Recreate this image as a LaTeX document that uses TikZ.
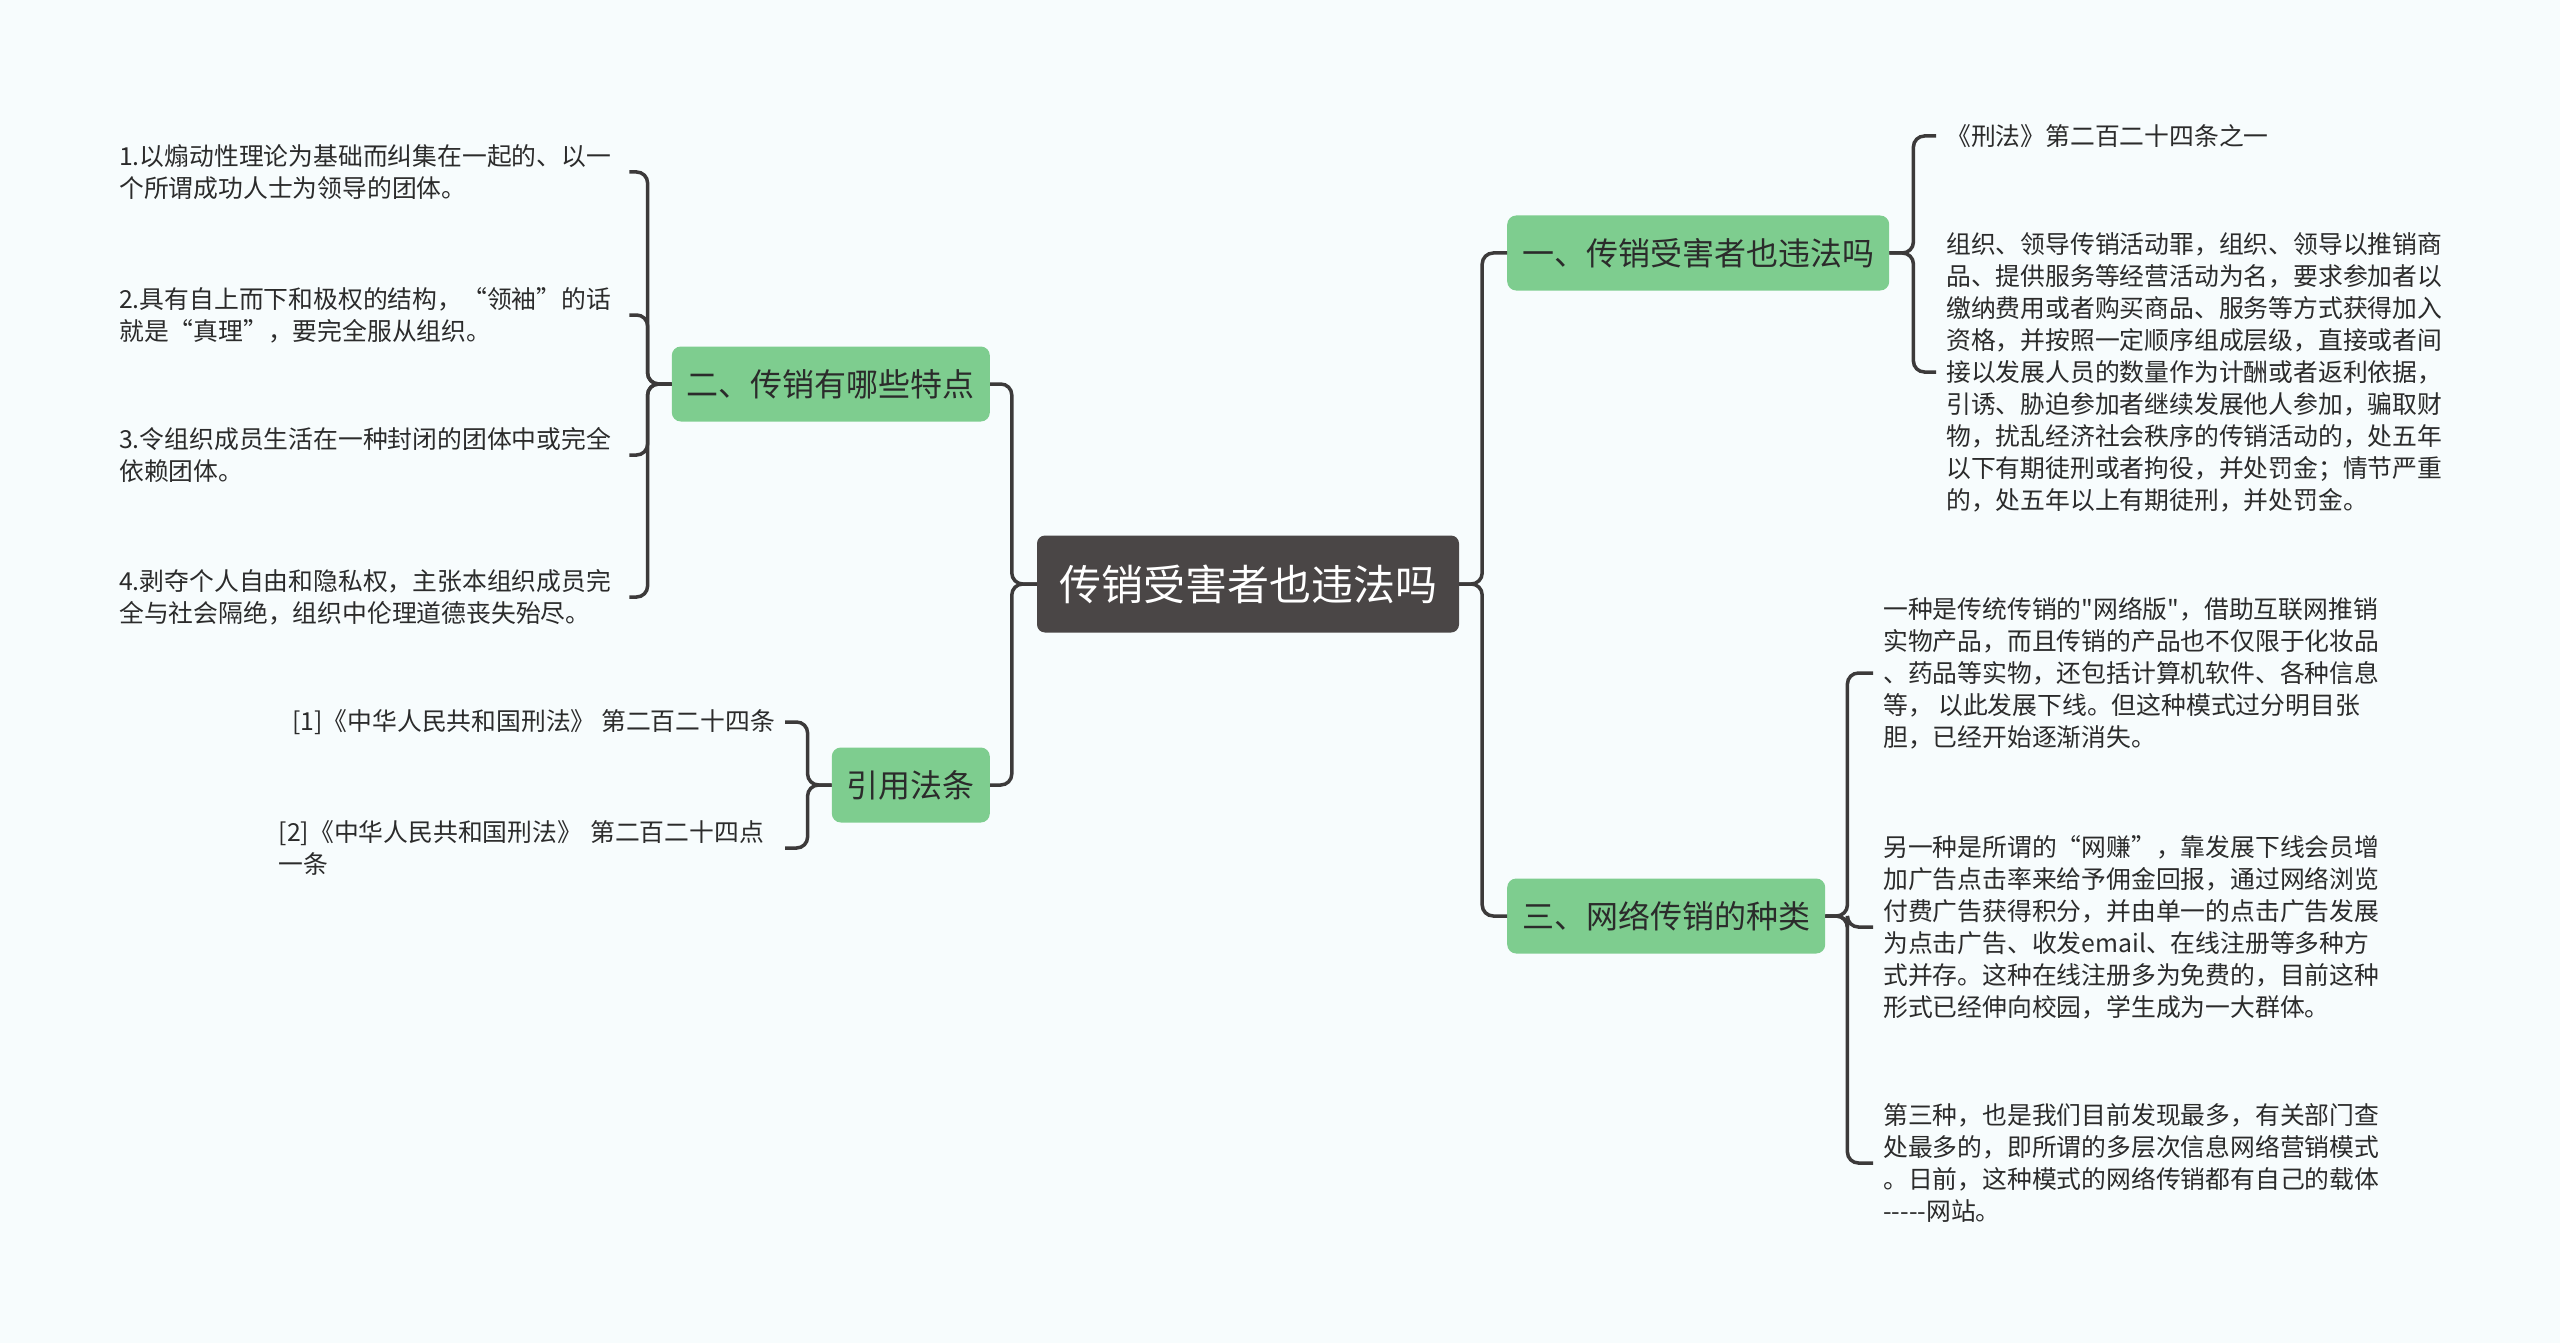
\documentclass[tikz,border=0pt]{standalone}
\usepackage{fontspec}
\usepackage{xcolor}
\usepackage{tikz}
\usetikzlibrary{positioning}
\newfontfamily\cjk{Noto Sans CJK SC}
\definecolor{bgpale}{HTML}{F7FCFD}
\definecolor{rootgray}{HTML}{4A4646}
\definecolor{topicgreen}{HTML}{7ECD8F}
\definecolor{linkgray}{HTML}{3C3A3A}
\definecolor{textdark}{HTML}{2B2B2B}
\tikzset{
  rootbox/.style={fill=rootgray,text=white,rounded corners=8pt,minimum height=97pt,
    inner xsep=22pt,font=\cjk\fontsize{42}{50}\selectfont},
  topicbox/.style={fill=topicgreen,text=textdark,rounded corners=9pt,minimum height=75pt,
    inner xsep=15pt,font=\cjk\fontsize{32}{38}\selectfont},
  leaftext/.style={text=textdark,align=left,inner xsep=10pt,inner ysep=4pt,
    font=\cjk\fontsize{24.8}{32}\selectfont},
  link/.style={draw=linkgray,line width=3.5pt,rounded corners=11pt}
}
\begin{document}
\begin{tikzpicture}[x=1pt,y=-1pt]
  \fill[bgpale] (0,0) rectangle (2560,1343);
  \useasboundingbox (0,0) rectangle (2560,1343);
  % centre and main topics
  \node[rootbox] (root) at (1248,584) {传销受害者也违法吗};
  \node[topicbox,anchor=west] (t1) at (1507,253) {一、传销受害者也违法吗};
  \node[topicbox,anchor=west] (t3) at (1507,916) {三、网络传销的种类};
  \node[topicbox,anchor=east] (t2) at (990,384) {二、传销有哪些特点};
  \node[topicbox,anchor=east] (t4) at (990,785) {引用法条};
  % leaves of t1
  \node[leaftext,anchor=west] (l11) at (1936,136) {《刑法》第二百二十四条之一};
  \node[leaftext,anchor=west] (l12) at (1936,372) {组织、领导传销活动罪，组织、领导以推销商\\品、提供服务等经营活动为名，要求参加者以\\缴纳费用或者购买商品、服务等方式获得加入\\资格，并按照一定顺序组成层级，直接或者间\\接以发展人员的数量作为计酬或者返利依据，\\引诱、胁迫参加者继续发展他人参加，骗取财\\物，扰乱经济社会秩序的传销活动的，处五年\\以下有期徒刑或者拘役，并处罚金；情节严重\\的，处五年以上有期徒刑，并处罚金。};
  % leaves of t3
  \node[leaftext,anchor=west] (l31) at (1873,673) {一种是传统传销的"网络版"，借助互联网推销\\实物产品，而且传销的产品也不仅限于化妆品\\、药品等实物，还包括计算机软件、各种信息\\等， 以此发展下线。但这种模式过分明目张\\胆，已经开始逐渐消失。};
  \node[leaftext,anchor=west] (l32) at (1873,927) {另一种是所谓的“网赚”，靠发展下线会员增\\加广告点击率来给予佣金回报，通过网络浏览\\付费广告获得积分，并由单一的点击广告发展\\为点击广告、收发email、在线注册等多种方\\式并存。这种在线注册多为免费的，目前这种\\形式已经伸向校园，学生成为一大群体。};
  \node[leaftext,anchor=west] (l33) at (1873,1163) {第三种，也是我们目前发现最多，有关部门查\\处最多的，即所谓的多层次信息网络营销模式\\。日前，这种模式的网络传销都有自己的载体\\-----网站。};
  % leaves of t2
  \node[leaftext,anchor=west,text width=500pt] (l21) at (109,172) {1.以煽动性理论为基础而纠集在一起的、以一\\个所谓成功人士为领导的团体。};
  \node[leaftext,anchor=west,text width=500pt] (l22) at (109,315) {2.具有自上而下和极权的结构，“领袖”的话\\就是“真理”，要完全服从组织。};
  \node[leaftext,anchor=west,text width=500pt] (l23) at (109,455) {3.令组织成员生活在一种封闭的团体中或完全\\依赖团体。};
  \node[leaftext,anchor=west,text width=500pt] (l24) at (109,597) {4.剥夺个人自由和隐私权，主张本组织成员完\\全与社会隔绝，组织中伦理道德丧失殆尽。};
  % leaves of t4
  \node[leaftext,anchor=east] (l41) at (785,722) {[1]《中华人民共和国刑法》 第二百二十四条};
  \node[leaftext,anchor=east,text width=496pt] (l42) at (785,848) {[2]《中华人民共和国刑法》 第二百二十四点\\一条};
  % connectors
  \foreach \t in {t1,t3}
    \draw[link] (root.east) -- ++(23,0) |- (\t.west);
  \foreach \t in {t2,t4}
    \draw[link] (root.west) -- ++(-25,0) |- (\t.east);
  \foreach \l in {l11,l12}
    \draw[link] (t1.east) -- ++(24,0) |- (\l.west);
  \foreach \l in {l31,l32,l33}
    \draw[link] (t3.east) -- ++(22,0) |- (\l.west);
  \foreach \l in {l21,l22,l23,l24}
    \draw[link] (t2.west) -- ++(-24,0) |- (\l.east);
  \foreach \l in {l41,l42}
    \draw[link] (t4.west) -- ++(-24,0) |- (\l.east);
\end{tikzpicture}
\end{document}
